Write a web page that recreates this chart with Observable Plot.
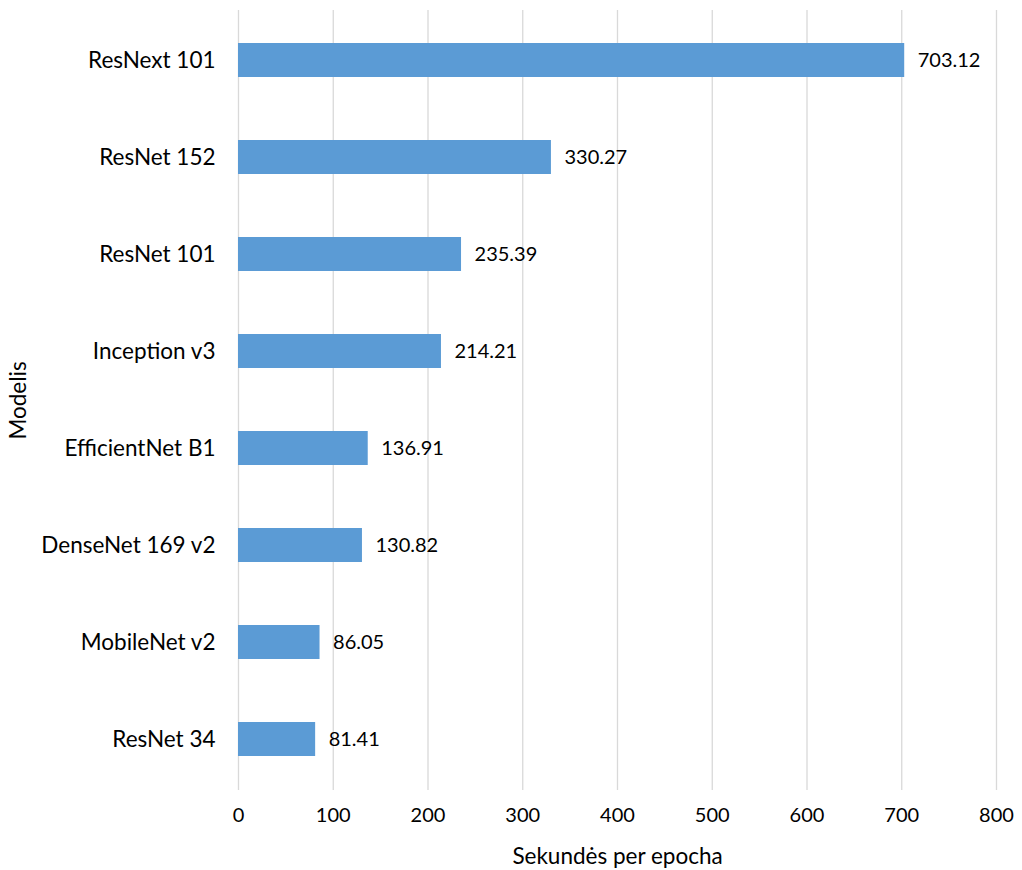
<!DOCTYPE html>
<html>
<head>
<meta charset="utf-8">
<script src="https://cdn.jsdelivr.net/npm/d3@7"></script>
<script src="https://cdn.jsdelivr.net/npm/@observablehq/plot@0.6"></script>
<style>
  html, body { margin: 0; padding: 0; background: #fff; }
  svg { display: block; }
</style>
</head>
<body>
<div id="chart"></div>
<script>
const models = ["ResNext 101", "ResNet 152", "ResNet 101", "Inception v3", "EfficientNet B1", "DenseNet 169 v2", "MobileNet v2", "ResNet 34"];
const seconds = [703.12, 330.27, 235.39, 214.21, 136.91, 130.82, 86.05, 81.41];
const xTicks = [0, 100, 200, 300, 400, 500, 600, 700, 800];

const data = models.map((m, i) => ({model: m, value: seconds[i]}));

const chart = Plot.plot({
  width: 1022,
  height: 870,
  marginTop: 10,
  marginBottom: 80,
  marginLeft: 238,
  marginRight: 26,
  style: {fontFamily: "Lato, 'Open Sans', sans-serif", fontSize: "20px", color: "#000", background: "#fff"},
  x: {domain: [0, 800], ticks: xTicks, label: null},
  y: {domain: models, paddingInner: 0.645, paddingOuter: 0.32, label: null},
  marks: [
    Plot.ruleX(xTicks, {stroke: "#d9d9d9", strokeWidth: 1.3}),
    Plot.barX(data, {x: "value", y: "model", fill: "#5b9bd5"}),
    Plot.text(data, {x: "value", y: "model", text: d => d.value.toFixed(2), textAnchor: "start", dx: 13, fontSize: 20, fill: "#000"}),
    Plot.axisX({ticks: xTicks, tickSize: 0, tickPadding: 17, fontSize: 20, label: null}),
    Plot.axisY({tickSize: 0, tickPadding: 23, fontSize: 22.5, label: null}),
    Plot.text(["Sekundės per epocha"], {frameAnchor: "bottom", lineAnchor: "middle", dy: 66, fontSize: 22.5, fill: "#000"}),
    Plot.text(["Modelis"], {frameAnchor: "left", textAnchor: "middle", lineAnchor: "middle", dx: -220, rotate: -90, fontSize: 22.5, fill: "#000"})
  ]
});
document.getElementById("chart").appendChild(chart);
</script>
</body>
</html>
